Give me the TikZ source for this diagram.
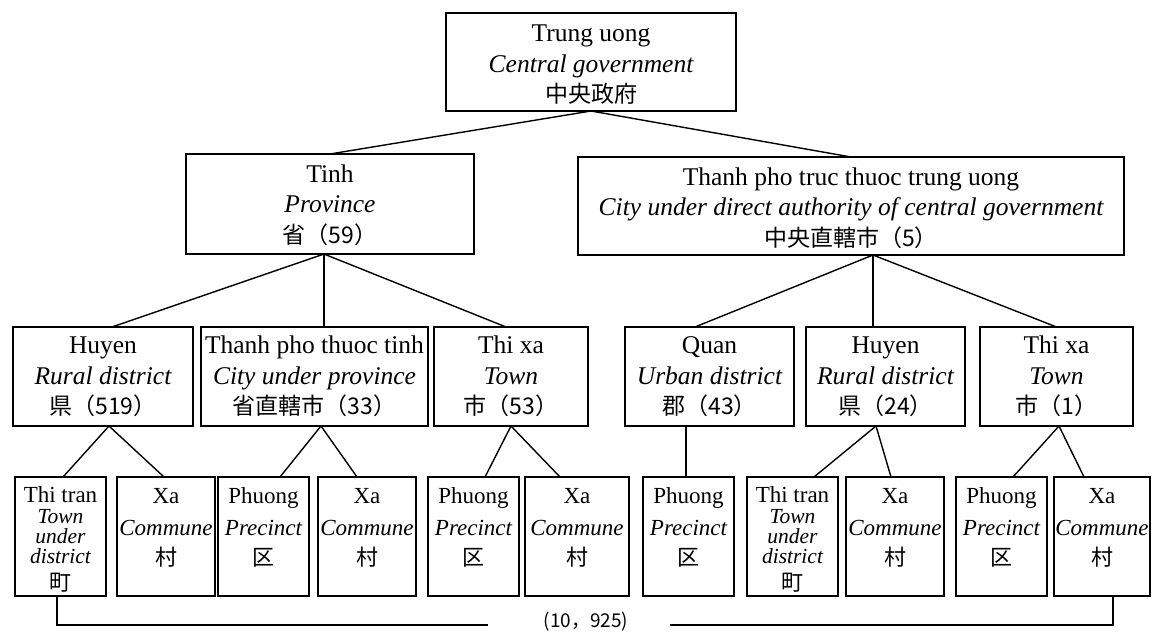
\documentclass[tikz,border=0pt]{standalone}
\usepackage{fontspec}
\setmainfont{Liberation Serif}
\newfontfamily\cjk{Noto Sans CJK JP}
\newcommand\La{\fontsize{25.5}{30}\selectfont}
\newcommand\Lb{\fontsize{23}{28}\selectfont}
\newcommand\Lc{\fontsize{21.5}{20}\selectfont}
\newcommand\Ca{\cjk\fontsize{23}{30}\selectfont}
\newcommand\Cb{\cjk\fontsize{22}{28}\selectfont}
\newcommand\bxfirst[2]{\hbox to\hsize{\hss\rule{0pt}{#1}#2\hss}}
\newcommand\bxline[2]{\baselineskip=#1\relax\hbox to\hsize{\hss#2\hss}}
\newcommand\cell[3]{\parbox[c][#2][t]{#1}{\lineskiplimit=-100pt\lineskip=0pt\relax#3}}
\tikzset{
  box/.style={draw, line width=1.4pt, inner sep=0pt, outer sep=0pt},
  conn/.style={line width=1.4pt},
}
\begin{document}
\begin{tikzpicture}[x=1pt,y=-1pt]
\useasboundingbox (0,0) rectangle (1153,634);
% level 1
\node[box] (top) at (591,62) {\cell{290pt}{98pt}{\bxfirst{29pt}{\La Trung uong}\bxline{30pt}{\La\itshape Central government}\bxline{30.5pt}{\Ca 中央政府}}};
% level 2
\node[box] (tinh) at (330,204) {\cell{288pt}{100pt}{\bxfirst{28pt}{\La Tinh}\bxline{30pt}{\La\itshape Province}\bxline{31pt}{\Ca 省（59）}}};
\node[box] (city) at (851,206) {\cell{546pt}{98pt}{\bxfirst{28pt}{\La Thanh pho truc thuoc trung uong}\bxline{30pt}{\La\itshape City under direct authority of central government}\bxline{31pt}{\Ca 中央直轄市（5）}}};
% level 3
\node[box] (huyen1) at (103,376.5) {\cell{180pt}{99pt}{\bxfirst{26pt}{\La Huyen}\bxline{31pt}{\La\itshape Rural district}\bxline{30.5pt}{\Ca 県（519）}}};
\node[box] (tpt) at (314.5,376.5) {\cell{227pt}{99pt}{\bxfirst{26pt}{\La Thanh pho thuoc tinh}\bxline{31pt}{\La\itshape City under province}\bxline{30.5pt}{\Ca 省直轄市（33）}}};
\node[box] (thixa1) at (511,376.5) {\cell{154pt}{99pt}{\bxfirst{26pt}{\La Thi xa}\bxline{31pt}{\La\itshape Town}\bxline{30.5pt}{\Ca 市（53）}}};
\node[box] (quan) at (709.5,376.5) {\cell{169pt}{99pt}{\bxfirst{26pt}{\La Quan}\bxline{31pt}{\La\itshape Urban district}\bxline{30.5pt}{\Ca 郡（43）}}};
\node[box] (huyen2) at (885.5,376.5) {\cell{159pt}{99pt}{\bxfirst{26pt}{\La Huyen}\bxline{31pt}{\La\itshape Rural district}\bxline{30.5pt}{\Ca 県（24）}}};
\node[box] (thixa2) at (1056.5,376.5) {\cell{153pt}{99pt}{\bxfirst{26pt}{\La Thi xa}\bxline{31pt}{\La\itshape Town}\bxline{30.5pt}{\Ca 市（1）}}};
% level 4
\node[box] (thitran1) at (60.5,536.5) {\cell{91pt}{119pt}{\bxfirst{25pt}{\Lb Thi tran}\bxline{21pt}{\Lc\itshape Town}\bxline{20.5pt}{\Lc\itshape under}\bxline{19.5pt}{\Lc\itshape district}\bxline{27pt}{\Cb 町}}};
\node[box] (xa1) at (166,536.5) {\cell{98pt}{119pt}{\bxfirst{26pt}{\Lb Xa}\bxline{32pt}{\Lb\itshape Commune}\bxline{30pt}{\Cb 村}}};
\node[box] (phuong1) at (263.5,536.5) {\cell{91pt}{119pt}{\bxfirst{26pt}{\Lb Phuong}\bxline{32pt}{\Lb\itshape Precinct}\bxline{30pt}{\Cb 区}}};
\node[box] (xa2) at (367,536.5) {\cell{98pt}{119pt}{\bxfirst{26pt}{\Lb Xa}\bxline{32pt}{\Lb\itshape Commune}\bxline{30pt}{\Cb 村}}};
\node[box] (phuong2) at (473.5,536.5) {\cell{91pt}{119pt}{\bxfirst{26pt}{\Lb Phuong}\bxline{32pt}{\Lb\itshape Precinct}\bxline{30pt}{\Cb 区}}};
\node[box] (xa3) at (577,536.5) {\cell{104pt}{119pt}{\bxfirst{26pt}{\Lb Xa}\bxline{32pt}{\Lb\itshape Commune}\bxline{30pt}{\Cb 村}}};
\node[box] (phuong3) at (688.5,536.5) {\cell{91pt}{119pt}{\bxfirst{26pt}{\Lb Phuong}\bxline{32pt}{\Lb\itshape Precinct}\bxline{30pt}{\Cb 区}}};
\node[box] (thitran2) at (792.5,536.5) {\cell{91pt}{119pt}{\bxfirst{25pt}{\Lb Thi tran}\bxline{21pt}{\Lc\itshape Town}\bxline{20.5pt}{\Lc\itshape under}\bxline{19.5pt}{\Lc\itshape district}\bxline{27pt}{\Cb 町}}};
\node[box] (xa4) at (895,536.5) {\cell{98pt}{119pt}{\bxfirst{26pt}{\Lb Xa}\bxline{32pt}{\Lb\itshape Commune}\bxline{30pt}{\Cb 村}}};
\node[box] (phuong4) at (1001.5,536.5) {\cell{91pt}{119pt}{\bxfirst{26pt}{\Lb Phuong}\bxline{32pt}{\Lb\itshape Precinct}\bxline{30pt}{\Cb 区}}};
\node[box] (xa5) at (1102,536.5) {\cell{96pt}{119pt}{\bxfirst{26pt}{\Lb Xa}\bxline{32pt}{\Lb\itshape Commune}\bxline{30pt}{\Cb 村}}};
% apex points
\coordinate (tinhap) at ([xshift=-6pt]tinh.south);
\coordinate (cityap) at ([xshift=22pt]city.south);
\coordinate (h1ap) at ([xshift=6pt]huyen1.south);
\coordinate (tptap) at ([xshift=6.5pt]tpt.south);
\coordinate (tx1ap) at (thixa1.south);
\coordinate (quanap) at ([xshift=-23.5pt]quan.south);
\coordinate (h2ap) at ([xshift=-9.5pt]huyen2.south);
\coordinate (tx2ap) at ([xshift=2.5pt]thixa2.south);
% connectors
\draw[conn] (top.south) -- (tinh.north);
\draw[conn] (top.south) -- (city.north);
\draw[conn] (tinhap) -- ([xshift=9pt]huyen1.north);
\draw[conn] (tinhap) -- (tinhap |- tpt.north);
\draw[conn] (tinhap) -- ([xshift=-5pt]thixa1.north);
\draw[conn] (cityap) -- ([xshift=-14.5pt]quan.north);
\draw[conn] (cityap) -- (cityap |- huyen2.north);
\draw[conn] (cityap) -- (thixa2.north);
\draw[conn] (h1ap) -- ([xshift=2.5pt]thitran1.north);
\draw[conn] (h1ap) -- ([xshift=-2pt]xa1.north);
\draw[conn] (tptap) -- ([xshift=16.5pt]phuong1.north);
\draw[conn] (tptap) -- ([xshift=-10pt]xa2.north);
\draw[conn] (tx1ap) -- ([xshift=11.5pt]phuong2.north);
\draw[conn] (tx1ap) -- ([xshift=-17pt]xa3.north);
\draw[conn] (quanap) -- (quanap |- phuong3.north);
\draw[conn] (h2ap) -- ([xshift=21.5pt]thitran2.north);
\draw[conn] (h2ap) -- ([xshift=-4pt]xa4.north);
\draw[conn] (tx2ap) -- ([xshift=11.5pt]phuong4.north);
\draw[conn] (tx2ap) -- ([xshift=-18pt]xa5.north);
% total line
\coordinate (bl) at (488,625);
\coordinate (br) at (670,625);
\draw[conn] ([xshift=-3.5pt]thitran1.south) |- (bl);
\draw[conn] (br) -| ([xshift=11pt]xa5.south);
\node[font=\cjk\fontsize{19}{20}\selectfont, inner sep=0pt] (total) at (586,622) {(10，925)};
\end{tikzpicture}
\end{document}
